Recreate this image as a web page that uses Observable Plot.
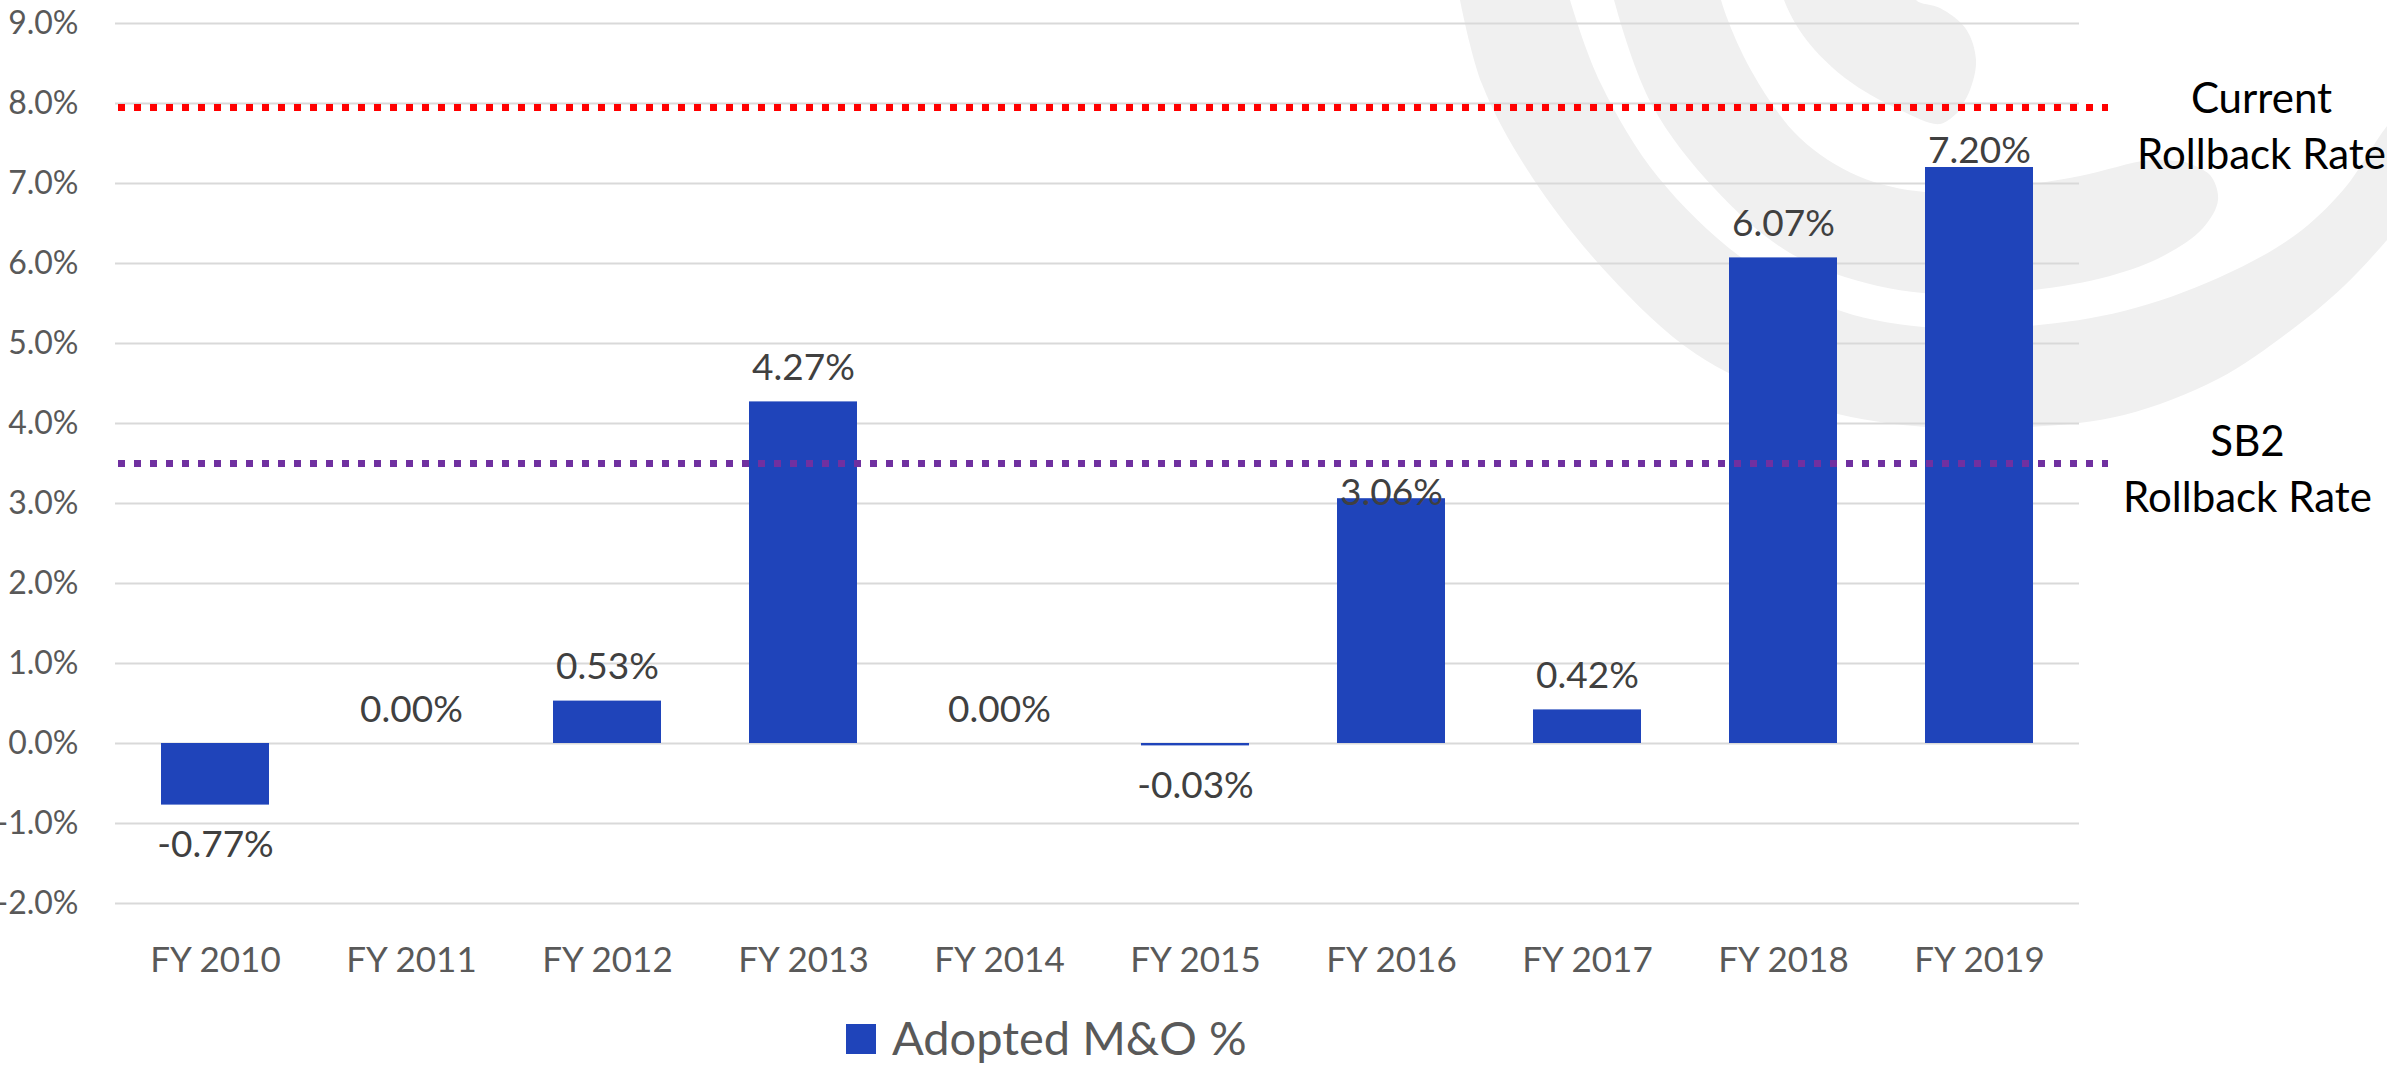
<!DOCTYPE html>
<html>
<head>
<meta charset="utf-8">
<script src="https://cdn.jsdelivr.net/npm/d3@7"></script>
<script src="https://cdn.jsdelivr.net/npm/@observablehq/plot@0.6"></script>
<style>
  html, body { margin: 0; padding: 0; background: #ffffff; }
  #chart, #legend { width: 2387px; display: block; }
  svg { display: block; }
</style>
</head>
<body>
<div id="chart"></div>
<div id="legend"></div>
<script>
// ---- data ----
const years = ["FY 2010", "FY 2011", "FY 2012", "FY 2013", "FY 2014", "FY 2015", "FY 2016", "FY 2017", "FY 2018", "FY 2019"];
const adoptedMO = [-0.77, 0.00, 0.53, 4.27, 0.00, -0.03, 3.06, 0.42, 6.07, 7.20];
const yTicks = [-2, -1, 0, 1, 2, 3, 4, 5, 6, 7, 8, 9];
const rateNames = ["Current\nRollback Rate", "SB2\nRollback Rate"];
const rateValues = [7.95, 3.50];
const rateColors = ["#FF0000", "#7030A0"];
const seriesName = "Adopted M&O %";

// decorative background logo (pixel outlines of the faint watermark)
const logoBands = [
  { outer: [[1460,0],[1482,84],[1532,177],[1608,274],[1696,354],[1803,404],[1903,425],[2029,427],[2124,415],[2218,379],[2294,328],[2344,286],[2387,240],[2420,200]],
    inner: [[2420,90],[2387,126],[2344,189],[2294,236],[2218,278],[2124,311],[2029,326],[1935,328],[1841,311],[1746,261],[1658,177],[1601,84],[1570,0],[1565,-20]] },
  { outer: [[1610,-20],[1614,0],[1652,105],[1715,189],[1790,253],[1878,286],[1966,295],[2034,290],[2110,276],[2165,255],[2203,228],[2218,200],[2210,175],[2185,162]],
    inner: [[2185,162],[2150,160],[2080,176],[2000,188],[1925,192],[1858,176],[1800,138],[1752,72],[1721,0],[1718,-20]] },
  { outer: [[1780,-20],[1784,0],[1805,38],[1845,78],[1900,110],[1940,124],[1958,112]],
    inner: [[1958,112],[1970,90],[1976,60],[1966,29],[1940,8],[1916,0],[1912,-20]] }
];

const bars = years.map((year, i) => ({ year, value: adoptedMO[i] }));
const rates = rateNames.map((name, i) => ({ name, value: rateValues[i], color: rateColors[i] }));
const fmt = v => v.toFixed(2) + "%";

const W = 2387, H = 1000;
const barColor = "#1F44BA";

function valueLabels(filter, dy) {
  return Plot.text(bars.filter(filter), {
    x: "year", y: "value", text: d => fmt(d.value),
    lineAnchor: "bottom", dy, fontSize: 37, fill: "#404040"
  });
}

const chart = Plot.plot({
  width: W,
  height: H,
  marginLeft: 115,
  marginRight: 308,
  marginTop: 23,
  marginBottom: 97,
  style: { fontFamily: "Lato, 'Open Sans', sans-serif", background: "#ffffff", overflow: "visible" },
  x: { domain: years, paddingInner: 0.45, paddingOuter: 0.225, label: null },
  y: { domain: [-2, 9], label: null },
  color: { type: "identity" },
  marks: [
    Plot.ruleY(yTicks, { stroke: "#D9D9D9", strokeWidth: 2 }),
    Plot.barY(bars, { x: "year", y: "value", fill: barColor }),
    Plot.ruleY(rates, { y: "value", stroke: "color", strokeWidth: 7, strokeDasharray: "7,9", insetLeft: 3, insetRight: -29 }),
    valueLabels(d => d.value >= 0 && d.year !== "FY 2016" && d.year !== "FY 2019", -22),
    valueLabels(d => d.year === "FY 2016", 6),
    valueLabels(d => d.year === "FY 2019", -5),
    valueLabels(d => d.value < 0, 52),
    Plot.text(rates.slice(0, 1), { y: "value", text: "name", frameAnchor: "right", textAnchor: "middle", lineAnchor: "bottom", lineHeight: 1.333, dx: 182, dy: 61, fontSize: 42, fill: "#000000" }),
    Plot.text(rates.slice(1, 2), { y: "value", text: "name", frameAnchor: "right", textAnchor: "middle", lineAnchor: "bottom", lineHeight: 1.333, dx: 168, dy: 48, fontSize: 42, fill: "#000000" }),
    Plot.axisX({ tickSize: 0, tickPadding: 44, fontSize: 35, color: "#595959", label: null }),
    Plot.axisY({ ticks: yTicks, tickSize: 0, tickPadding: 37, fontSize: 32, color: "#595959", label: null, tickFormat: d => d.toFixed(1) + "%" })
  ]
});

// watermark behind everything
const svgSel = d3.select(chart);
const wm = svgSel.insert("g", ":first-child").attr("fill", "#F0F0F0");
const curve = d3.line().curve(d3.curveCatmullRom.alpha(0.5));
logoBands.forEach(b => {
  const p = curve(b.outer) + "L" + curve(b.inner).slice(1) + "Z";
  wm.append("path").attr("d", p);
});
document.getElementById("chart").appendChild(chart);

// legend below the chart
const leg = d3.select("#legend").append("svg").attr("width", W).attr("height", 66)
  .style("font-family", "Lato, 'Open Sans', sans-serif");
leg.append("rect").attr("x", 846).attr("y", 24).attr("width", 30).attr("height", 30).attr("fill", barColor);
leg.append("text").attr("x", 892).attr("y", 55).attr("font-size", 47).attr("fill", "#595959").text(seriesName);
</script>
</body>
</html>
